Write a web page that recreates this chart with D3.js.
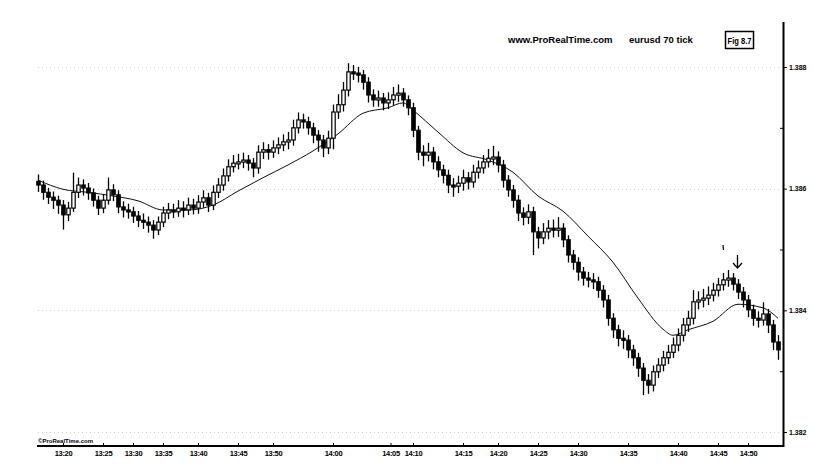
<!DOCTYPE html>
<html>
<head>
<meta charset="utf-8">
<script src="https://cdnjs.cloudflare.com/ajax/libs/d3/7.8.5/d3.min.js"></script>
<style>
  body { margin: 0; background: #fff; }
  svg { display: block; }
  text { font-family: "Liberation Sans", Arial, sans-serif; fill: #000; }
</style>
</head>
<body>
<svg id="chart" width="813" height="467"></svg>
<script>
// eurusd 70 tick bars
var opens = [
  1.38612,1.38606,1.38594,1.38586,1.38581,1.38573,1.38557,1.38568,1.38594,1.38606,
  1.38601,1.38593,1.38581,1.38568,1.38581,1.38598,1.38590,1.38570,1.38565,1.38562,
  1.38555,1.38548,1.38545,1.38540,1.38532,1.38545,1.38560,1.38565,1.38562,1.38568,
  1.38565,1.38573,1.38568,1.38578,1.38585,1.38573,1.38594,1.38606,1.38621,1.38636,
  1.38642,1.38644,1.38647,1.38642,1.38634,1.38660,1.38664,1.38660,1.38667,1.38672,
  1.38677,1.38680,1.38700,1.38713,1.38710,1.38700,1.38688,1.38680,1.38667,1.38683,
  1.38726,1.38738,1.38762,1.38792,1.38790,1.38787,1.38775,1.38754,1.38746,1.38749,
  1.38741,1.38746,1.38754,1.38757,1.38746,1.38733,1.38696,1.38660,1.38655,1.38660,
  1.38644,1.38631,1.38622,1.38606,1.38604,1.38609,1.38618,1.38611,1.38627,1.38634,
  1.38644,1.38650,1.38652,1.38639,1.38614,1.38598,1.38581,1.38560,1.38553,1.38562,
  1.38529,1.38519,1.38529,1.38535,1.38532,1.38535,1.38516,1.38491,1.38479,1.38463,
  1.38453,1.38450,1.38447,1.38433,1.38417,1.38387,1.38368,1.38354,1.38351,1.38335,
  1.38322,1.38305,1.38285,1.38277,1.38299,1.38310,1.38322,1.38331,1.38343,1.38359,
  1.38376,1.38387,1.38414,1.38417,1.38420,1.38425,1.38433,1.38442,1.38450,1.38453,
  1.38443,1.38430,1.38417,1.38401,1.38387,1.38384,1.38394,1.38376,1.38348
];
var highs = [
  1.38620,1.38610,1.38598,1.38592,1.38585,1.38578,1.38575,1.38623,1.38615,1.38612,
  1.38606,1.38597,1.38585,1.38588,1.38615,1.38604,1.38594,1.38576,1.38572,1.38567,
  1.38560,1.38556,1.38551,1.38545,1.38551,1.38567,1.38573,1.38572,1.38578,1.38576,
  1.38582,1.38580,1.38586,1.38594,1.38590,1.38602,1.38614,1.38630,1.38645,1.38652,
  1.38654,1.38656,1.38652,1.38647,1.38668,1.38673,1.38670,1.38676,1.38681,1.38686,
  1.38690,1.38710,1.38722,1.38720,1.38715,1.38705,1.38693,1.38685,1.38692,1.38735,
  1.38752,1.38772,1.38803,1.38800,1.38797,1.38792,1.38780,1.38760,1.38758,1.38754,
  1.38755,1.38764,1.38768,1.38762,1.38750,1.38738,1.38700,1.38668,1.38672,1.38665,
  1.38650,1.38636,1.38628,1.38614,1.38618,1.38628,1.38624,1.38636,1.38643,1.38652,
  1.38662,1.38667,1.38658,1.38644,1.38619,1.38603,1.38586,1.38566,1.38571,1.38567,
  1.38534,1.38540,1.38545,1.38546,1.38550,1.38540,1.38520,1.38496,1.38484,1.38468,
  1.38460,1.38458,1.38452,1.38438,1.38422,1.38392,1.38373,1.38364,1.38356,1.38340,
  1.38327,1.38310,1.38292,1.38306,1.38318,1.38330,1.38340,1.38352,1.38367,1.38384,
  1.38396,1.38430,1.38428,1.38432,1.38436,1.38442,1.38450,1.38458,1.38463,1.38458,
  1.38448,1.38435,1.38422,1.38406,1.38395,1.38410,1.38399,1.38381,1.38356
];
var lows = [
  1.38598,1.38585,1.38578,1.38570,1.38562,1.38536,1.38550,1.38565,1.38588,1.38592,
  1.38585,1.38574,1.38560,1.38563,1.38577,1.38583,1.38563,1.38556,1.38554,1.38547,
  1.38540,1.38537,1.38531,1.38521,1.38527,1.38540,1.38553,1.38555,1.38557,1.38556,
  1.38560,1.38561,1.38562,1.38572,1.38565,1.38568,1.38588,1.38600,1.38615,1.38630,
  1.38635,1.38637,1.38633,1.38622,1.38628,1.38652,1.38651,1.38654,1.38660,1.38665,
  1.38668,1.38674,1.38694,1.38702,1.38692,1.38678,1.38664,1.38655,1.38660,1.38668,
  1.38718,1.38730,1.38755,1.38782,1.38778,1.38766,1.38745,1.38738,1.38738,1.38732,
  1.38734,1.38740,1.38746,1.38738,1.38724,1.38688,1.38650,1.38640,1.38648,1.38635,
  1.38622,1.38612,1.38596,1.38590,1.38596,1.38600,1.38602,1.38605,1.38620,1.38628,
  1.38638,1.38642,1.38630,1.38605,1.38590,1.38572,1.38550,1.38543,1.38545,1.38494,
  1.38505,1.38512,1.38520,1.38523,1.38524,1.38507,1.38482,1.38470,1.38452,1.38444,
  1.38441,1.38438,1.38424,1.38408,1.38378,1.38358,1.38344,1.38340,1.38325,1.38312,
  1.38294,1.38264,1.38266,1.38270,1.38292,1.38303,1.38315,1.38325,1.38336,1.38352,
  1.38368,1.38380,1.38405,1.38408,1.38412,1.38418,1.38426,1.38436,1.38442,1.38436,
  1.38422,1.38408,1.38392,1.38378,1.38375,1.38378,1.38366,1.38338,1.38322
];
var closes = [
  1.38606,1.38594,1.38586,1.38581,1.38573,1.38557,1.38568,1.38594,1.38606,1.38601,
  1.38593,1.38581,1.38568,1.38581,1.38598,1.38590,1.38570,1.38565,1.38562,1.38555,
  1.38548,1.38545,1.38540,1.38532,1.38545,1.38560,1.38565,1.38562,1.38568,1.38565,
  1.38573,1.38568,1.38578,1.38585,1.38573,1.38594,1.38606,1.38621,1.38636,1.38642,
  1.38644,1.38647,1.38642,1.38634,1.38660,1.38664,1.38660,1.38667,1.38672,1.38677,
  1.38680,1.38700,1.38713,1.38710,1.38700,1.38688,1.38680,1.38667,1.38683,1.38726,
  1.38738,1.38762,1.38792,1.38790,1.38787,1.38775,1.38754,1.38746,1.38749,1.38741,
  1.38746,1.38754,1.38757,1.38746,1.38733,1.38696,1.38660,1.38655,1.38660,1.38644,
  1.38631,1.38622,1.38606,1.38604,1.38609,1.38618,1.38611,1.38627,1.38634,1.38644,
  1.38650,1.38652,1.38639,1.38614,1.38598,1.38581,1.38560,1.38553,1.38562,1.38529,
  1.38519,1.38529,1.38535,1.38532,1.38535,1.38516,1.38491,1.38479,1.38463,1.38453,
  1.38450,1.38447,1.38433,1.38417,1.38387,1.38368,1.38354,1.38351,1.38335,1.38322,
  1.38305,1.38285,1.38277,1.38299,1.38310,1.38322,1.38331,1.38343,1.38359,1.38376,
  1.38387,1.38414,1.38417,1.38420,1.38425,1.38433,1.38442,1.38450,1.38453,1.38443,
  1.38430,1.38417,1.38401,1.38387,1.38384,1.38394,1.38376,1.38348,1.38335
];

// moving average, read at some bar positions
var maBars   = [0, 5, 10, 15, 20, 25, 30, 35, 40, 45, 50, 55, 60, 65, 70, 73, 75, 80, 85, 90,
                95, 100, 105, 110, 115, 120, 125, 127, 130, 135, 140, 145, 148];
var maValues = [1.38614,1.38599,1.38594,1.38588,1.38580,1.38565,1.38565,1.38573,1.38596,1.38618,
                1.38639,1.38662,1.38690,1.38724,1.38733,1.38741,1.38729,1.38693,1.38659,1.38647,
                1.38627,1.38588,1.38563,1.38522,1.38479,1.38420,1.38369,1.38359,1.38368,1.38382,
                1.38410,1.38404,1.38387];

var timeBars   = [5, 13, 19, 25, 32, 40, 47, 59, 70.5, 75, 85, 92, 100, 108, 118, 128, 136, 142];
var timeLabels = ["13:20","13:25","13:30","13:35","13:40","13:45","13:50","14:00","14:05","14:10",
                  "14:15","14:20","14:25","14:30","14:35","14:40","14:45","14:50"];

var priceTicks = [1.382, 1.384, 1.386, 1.388];
var minorTicks = [1.383, 1.385, 1.387];

var svg = d3.select("#chart");

var x = d3.scaleLinear().domain([0, closes.length - 1]).range([38, 778]);
var y = d3.scaleLinear().domain([1.382, 1.388]).range([432, 67]);

// faint dotted grid
svg.append("g").selectAll("line").data(priceTicks).join("line")
    .attr("x1", 38).attr("x2", 780)
    .attr("y1", function(d) { return Math.round(y(d)) + 0.5; })
    .attr("y2", function(d) { return Math.round(y(d)) + 0.5; })
    .attr("stroke", "#cfcfcf").attr("stroke-width", 1)
    .attr("stroke-dasharray", "1,3");

// moving average
var ma = maBars.map(function(b, i) { return [b, maValues[i]]; });
svg.append("path")
    .datum(ma)
    .attr("fill", "none")
    .attr("stroke", "#111")
    .attr("stroke-width", 1)
    .attr("d", d3.line()
        .x(function(d) { return x(d[0]); })
        .y(function(d) { return y(d[1]); })
        .curve(d3.curveMonotoneX));

// bars
var bars = svg.append("g").selectAll("g").data(closes).join("g");

bars.append("line")
    .attr("x1", function(d, i) { return Math.round(x(i)) + 0.5; })
    .attr("x2", function(d, i) { return Math.round(x(i)) + 0.5; })
    .attr("y1", function(d, i) { return y(highs[i]) - 2; })
    .attr("y2", function(d, i) { return y(lows[i]) + 2; })
    .attr("stroke", "#000").attr("stroke-width", 1.3);

bars.append("rect")
    .attr("x", function(d, i) { return Math.round(x(i)) - 1.2; })
    .attr("width", 3.4)
    .attr("y", function(d, i) { return y(Math.max(opens[i], d)); })
    .attr("height", function(d, i) { return Math.max(2, Math.abs(y(opens[i]) - y(d))); })
    .attr("fill", function(d, i) { return d >= opens[i] ? "#fff" : "#000"; })
    .attr("stroke", "#000").attr("stroke-width", 1.2);

// right price axis
var yAxis = svg.append("g")
    .attr("transform", "translate(783,0)")
    .call(d3.axisRight(y).tickValues(priceTicks).tickSize(4).tickPadding(2)
        .tickFormat(d3.format(".3f")));
yAxis.select(".domain").remove();
yAxis.selectAll("text").attr("font-size", 7).attr("font-weight", "bold").style("font-family", "'Liberation Sans', Arial, sans-serif");

var yMinor = svg.append("g")
    .attr("transform", "translate(783,0)")
    .call(d3.axisLeft(y).tickValues(minorTicks).tickSize(3).tickFormat(""));
yMinor.select(".domain").remove();

svg.append("line")
    .attr("x1", 783.5).attr("x2", 783.5).attr("y1", 22).attr("y2", 447)
    .attr("stroke", "#000").attr("stroke-width", 2);

// bottom time axis
var xAxis = svg.append("g")
    .attr("transform", "translate(0,446)")
    .call(d3.axisBottom(x).tickValues(timeBars).tickSize(-3).tickPadding(5)
        .tickFormat(function(d, i) { return timeLabels[i]; }));
xAxis.select(".domain").remove();
xAxis.selectAll("text").attr("font-size", 7.5).attr("font-weight", "bold")
    .attr("letter-spacing", -0.3)
    .style("font-family", "'Liberation Sans', Arial, sans-serif");

svg.append("line")
    .attr("x1", 37).attr("x2", 784).attr("y1", 446).attr("y2", 446)
    .attr("stroke", "#000").attr("stroke-width", 2);

// header
svg.append("text")
    .attr("x", 508).attr("y", 43)
    .attr("font-size", 9.5).attr("font-weight", "bold")
    .text("www.ProRealTime.com");
svg.append("text")
    .attr("x", 629).attr("y", 43)
    .attr("font-size", 9.5).attr("font-weight", "bold")
    .text("eurusd 70 tick");

svg.append("rect")
    .attr("x", 725.5).attr("y", 31.5).attr("width", 28).attr("height", 17)
    .attr("fill", "#fff").attr("stroke", "#000").attr("stroke-width", 1.5);
svg.append("text")
    .attr("x", 739.5).attr("y", 43.5).attr("text-anchor", "middle")
    .attr("font-size", 8.5).attr("font-weight", "bold")
    .attr("textLength", 24).attr("lengthAdjust", "spacingAndGlyphs")
    .text("Fig 8.7");

svg.append("text")
    .attr("x", 38).attr("y", 443)
    .attr("font-size", 6).attr("font-weight", "bold")
    .text("©ProRealTime.com");

// arrow marker over the last top
svg.append("line")
    .attr("x1", 723).attr("x2", 723.5).attr("y1", 245).attr("y2", 250)
    .attr("stroke", "#000").attr("stroke-width", 1.2);
svg.append("path")
    .attr("d", "M737.5,255 L737.5,268 M733,263 L737.5,268 L742,263")
    .attr("fill", "none").attr("stroke", "#000").attr("stroke-width", 1.3);
</script>
</body>
</html>
